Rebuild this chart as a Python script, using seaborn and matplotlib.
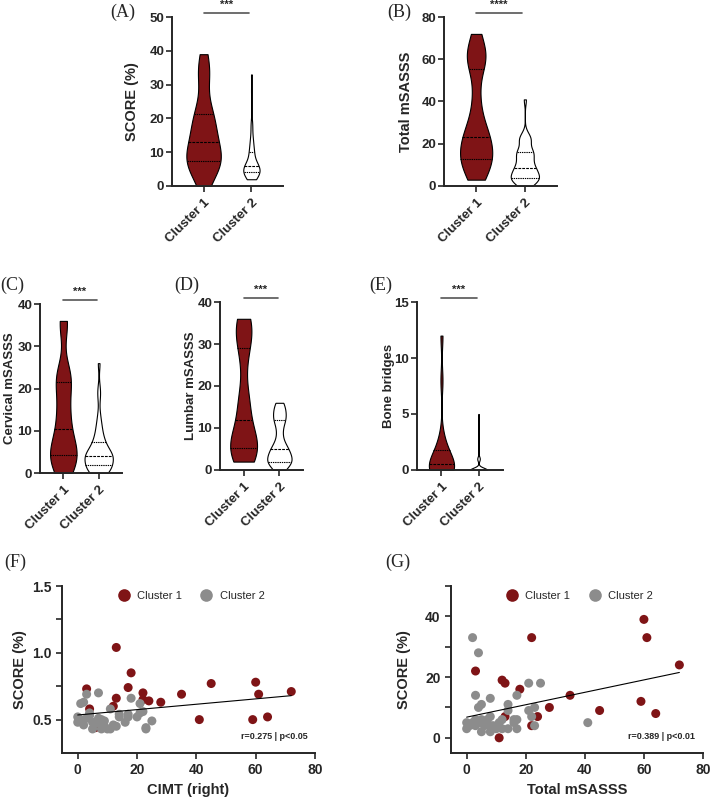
import numpy as np
import pandas as pd
import seaborn as sns
import matplotlib.pyplot as plt

sns.set_style('ticks')
plt.rcParams['font.family'] = ['Liberation Sans', 'DejaVu Sans']
plt.rcParams['font.weight'] = 'bold'

RED = '#7f1416'
GRAY = '#8c8c8c'
order = ['Cluster 1', 'Cluster 2']

# ---- data ----
# panel G (also the source of A = SCORE and B = Total mSASSS)
g_c1_mSASSS = [60, 61, 72, 22, 3, 12, 13, 18, 35, 59, 28, 45, 64, 13, 24, 22, 6, 11]
g_c1_score = [39, 33, 24, 33, 22, 19, 18, 16, 14, 12, 10, 9, 8, 7, 7, 4, 5, 0]
g_c2_mSASSS = [2, 4, 3, 8, 5, 4, 14, 14, 17, 21, 25, 21, 23, 22, 17, 16, 23, 41, 0, 0,
               2, 3, 3, 5, 6, 7, 8, 8, 11, 12, 14, 17, 5, 8, 12, 16, 1, 4, 9, 10]
g_c2_score = [33, 28, 14, 13, 11, 10, 11, 9, 14, 18, 18, 9, 10, 7, 6, 5, 4, 5, 5, 3,
              5, 6, 4, 6, 4, 6, 7, 4, 5, 3, 3, 3, 2, 2, 6, 6, 4, 5, 4, 3]

# panel F
f_c1_x = [13, 18, 3, 17, 22, 22, 24, 28, 35, 45, 60, 61, 72, 41, 59, 64, 4, 12, 13, 6]
f_c1_y = [1.04, 0.85, 0.73, 0.74, 0.70, 0.65, 0.64, 0.63, 0.69, 0.77, 0.78, 0.69, 0.71,
          0.50, 0.50, 0.52, 0.58, 0.60, 0.66, 0.44]
f_c2_x = [3, 7, 1, 2, 18, 21, 11, 22, 21, 14, 14, 17, 17, 20, 25, 16, 23, 23, 0, 0,
          1, 2, 4, 5, 5, 7, 8, 8, 8, 9, 10, 12, 11, 4, 6, 9, 13, 3]
f_c2_y = [0.69, 0.70, 0.62, 0.63, 0.66, 0.62, 0.58, 0.56, 0.55, 0.54, 0.52, 0.54, 0.52,
          0.52, 0.49, 0.48, 0.44, 0.43, 0.52, 0.48, 0.50, 0.46, 0.53, 0.48, 0.43, 0.51,
          0.50, 0.46, 0.43, 0.45, 0.43, 0.46, 0.43, 0.55, 0.47, 0.49, 0.45, 0.51]

# panels C, D, E
cervical_c1 = [0, 1, 2, 4, 4, 5, 6, 7, 9, 12, 14, 16, 20, 22, 23, 24, 35, 36]
cervical_c2 = [0, 0, 0, 0, 1, 1, 1, 1, 1, 2, 2, 2, 3, 3, 3, 3, 4, 4, 4, 4, 4, 4, 5, 5,
               5, 5, 6, 6, 7, 7, 8, 8, 9, 10, 11, 12, 14, 18, 20, 26]
lumbar_c1 = [2, 3, 4, 5, 5, 6, 7, 8, 10, 14, 16, 18, 26, 30, 32, 34, 35, 36]
lumbar_c2 = [0, 0, 1, 1, 1, 2, 2, 2, 2, 2, 2, 3, 3, 3, 3, 4, 4, 4, 5, 5, 5, 5, 6, 6,
             7, 8, 9, 10, 11, 12, 12, 12, 13, 13, 14, 14, 15, 15, 16, 16]
bridges_c1 = [0, 0, 0, 0, 0, 0, 0, 0, 0, 1, 1, 1, 1, 2, 2, 3, 8, 12]
bridges_c2 = [0] * 34 + [1] * 5 + [5]


def long_df(c1, c2):
    return pd.DataFrame({'cluster': ['Cluster 1'] * len(c1) + ['Cluster 2'] * len(c2),
                         'value': list(c1) + list(c2)})


fig = plt.figure(figsize=(7.11, 8), dpi=100)
W, H = 711, 800


def add_ax(l, t, r, b):
    return fig.add_axes([l / W, 1 - b / H, (r - l) / W, (b - t) / H])


def style(ax, size=9.5, pad=3.5):
    for s in ['top', 'right']:
        ax.spines[s].set_visible(False)
    for s in ['left', 'bottom']:
        ax.spines[s].set_linewidth(1.4)
    ax.tick_params(width=1.2, length=4, labelsize=size)
    ax.tick_params(axis='y', pad=pad)
    for lab in ax.get_yticklabels():
        lab.set_fontweight('bold')


def panel_letter(ax, letter, lx, ly):
    ax.text(lx, ly, letter, transform=ax.transAxes, fontsize=13,
            family='Liberation Serif', fontweight='normal', va='center')


def violin_panel(ax, c1, c2, ylim, yticks, ylabel, ysize, lab_x, stars, widths, bws,
                 letter, lx, ly):
    df = long_df(c1, c2)
    for i, c in enumerate(order):
        sns.violinplot(data=df[df.cluster == c], x='cluster', y='value', order=order,
                       color=RED if i == 0 else 'white', saturation=1, width=widths[i],
                       density_norm='width', cut=0, inner='quart', bw_adjust=bws[i],
                       linewidth=0.8, linecolor='black', ax=ax)
    ax.set_xlim(-0.66, 1.66)
    ax.set_ylim(*ylim)
    ax.set_yticks(yticks)
    ax.set_xticks([0, 1])
    ax.set_xticklabels(order, rotation=45, ha='right', rotation_mode='anchor',
                       fontweight='bold', fontsize=10)
    ax.set_xlabel('')
    ax.set_ylabel(ylabel, fontsize=ysize, fontweight='bold')
    ax.yaxis.set_label_coords(lab_x, 0.5)
    style(ax, 9.5, 1.5)
    top = ylim[1]
    span = top - ylim[0]
    ax.plot([0, 0.95], [top + span * 0.025] * 2, color='#555555', lw=1.2, clip_on=False)
    ax.text(0.47, top + span * 0.04, stars, ha='center', va='bottom', fontsize=8,
            fontweight='bold', clip_on=False)
    panel_letter(ax, letter, lx, ly)


axA = add_ax(172, 17, 283, 186)
violin_panel(axA, g_c1_score, g_c2_score, (0, 50), range(0, 51, 10), 'SCORE (%)', 10.5,
             -0.30, '***', (0.72, 0.34), (0.75, 0.6), '(A)', -0.56, 1.03)
axB = add_ax(444, 17, 557, 186)
violin_panel(axB, g_c1_mSASSS, g_c2_mSASSS, (0, 80), range(0, 81, 20), 'Total mSASSS',
             10.5, -0.27, '****', (0.66, 0.58), (0.6, 0.6), '(B)', -0.5, 1.03)
axC = add_ax(40, 304, 122, 473)
violin_panel(axC, cervical_c1, cervical_c2, (0, 40), range(0, 41, 10), 'Cervical mSASSS',
             9.5, -0.29, '***', (0.75, 0.8), (0.6, 0.6), '(C)', -0.49, 1.11)
axD = add_ax(220, 302, 303, 470)
violin_panel(axD, lumbar_c1, lumbar_c2, (0, 40), range(0, 41, 10), 'Lumbar mSASSS',
             9.5, -0.28, '***', (0.75, 0.68), (0.6, 0.6), '(D)', -0.55, 1.1)
axE = add_ax(417, 302, 503, 470)
violin_panel(axE, bridges_c1, bridges_c2, (0, 15), range(0, 16, 5), 'Bone bridges',
             9.5, -0.26, '***', (0.68, 0.47), (0.6, 0.5), '(E)', -0.55, 1.1)


def scatter_panel(ax, x1, y1, x2, y2, xlabel, ylim, yticks, minor, note, lab_x,
                  letter, lx):
    df = pd.DataFrame({'x': list(x1) + list(x2), 'y': list(y1) + list(y2),
                       'Cluster': ['Cluster 1'] * len(x1) + ['Cluster 2'] * len(x2)})
    sns.regplot(data=df, x='x', y='y', scatter=False, ci=None, color='black',
                line_kws={'linewidth': 0.8}, ax=ax)
    sns.scatterplot(data=df, x='x', y='y', hue='Cluster', hue_order=order,
                    palette=[RED, GRAY], s=42, edgecolor='none', ax=ax)
    ax.set_xlim(-5.3, 80)
    ax.set_ylim(*ylim)
    ax.set_xticks(range(0, 81, 20))
    ax.set_yticks(yticks)
    ax.set_yticks(minor, minor=True)
    ax.tick_params(which='minor', length=4, width=1.2)
    for lab in ax.get_xticklabels():
        lab.set_fontweight('bold')
    ax.set_xlabel(xlabel, fontsize=10.5, fontweight='bold')
    ax.set_ylabel('SCORE (%)', fontsize=10.5, fontweight='bold')
    ax.yaxis.set_label_coords(lab_x, 0.5)
    style(ax, 10)
    leg = ax.legend(loc='upper center', bbox_to_anchor=(0.5, 1.03), ncol=2, frameon=False,
                    fontsize=8, markerscale=1.4, handletextpad=0.2, columnspacing=1.2)
    for t in leg.get_texts():
        t.set_fontweight('normal')
    ax.text(0.97, 0.1, note, transform=ax.transAxes, ha='right', va='center',
            fontsize=6.5, fontweight='bold')
    panel_letter(ax, letter, lx, 1.14)


axF = add_ax(62, 586, 315, 753)
scatter_panel(axF, f_c1_x, f_c1_y, f_c2_x, f_c2_y, 'CIMT (right)', (0.25, 1.5),
              [0.5, 1.0, 1.5], [0.75, 1.25], 'r=0.275 | p<0.05', -0.14, '(F)', -0.23)
axG = add_ax(451, 586, 703, 753)
scatter_panel(axG, g_c1_mSASSS, g_c1_score, g_c2_mSASSS, g_c2_score, 'Total mSASSS',
              (-5, 50), [0, 20, 40], [10, 30, 50], 'r=0.389 | p<0.01', -0.16, '(G)', -0.26)

fig.savefig('out.png', dpi=100, facecolor='white')
